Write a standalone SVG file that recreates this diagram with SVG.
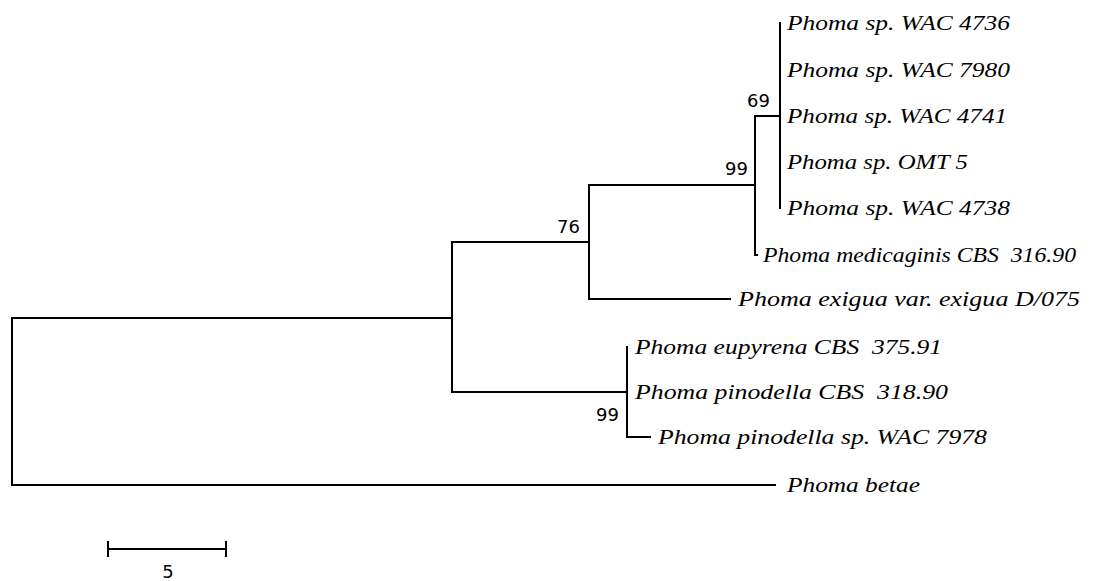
<svg xmlns="http://www.w3.org/2000/svg" width="1107" height="581" viewBox="0 0 1107 581">
<style>
.br{stroke:#000;stroke-width:2;fill:none;stroke-linecap:square}
.tx{font-family:"Liberation Serif",serif;font-style:italic;font-size:22px;fill:#000}
.bs{font-family:"DejaVu Sans","Liberation Sans",sans-serif;font-size:18px;fill:#000}
</style>
<rect width="1107" height="581" fill="#fff"/>
<g id="connectors">
<path class="br" d="M12,318 V485 M12,318 H452 M12,485 H775"/>
<path class="br" d="M452,242 V392 M452,242 H589 M452,392 H627"/>
<path class="br" d="M589,185 V299 M589,185 H755 M589,299 H730"/>
<path class="br" d="M755,116 V255 M755,116 H780 M755,255 H757"/>
<path class="br" d="M780,23 V208"/>
<path class="br" d="M627,347 V437 M627,437 H650"/>
</g>
<g id="leaf-4736"><text class="tx" x="787" y="30" textLength="223" lengthAdjust="spacingAndGlyphs">Phoma sp. WAC 4736</text></g>
<g id="leaf-7980"><text class="tx" x="787" y="77" textLength="223" lengthAdjust="spacingAndGlyphs">Phoma sp. WAC 7980</text></g>
<g id="leaf-4741"><text class="tx" x="787" y="123" textLength="220" lengthAdjust="spacingAndGlyphs">Phoma sp. WAC 4741</text></g>
<g id="leaf-omt5"><text class="tx" x="787" y="169" textLength="181" lengthAdjust="spacingAndGlyphs">Phoma sp. OMT 5</text></g>
<g id="leaf-4738"><text class="tx" x="787" y="215" textLength="223" lengthAdjust="spacingAndGlyphs">Phoma sp. WAC 4738</text></g>
<g id="leaf-medicaginis"><text class="tx" x="763" y="262" xml:space="preserve" textLength="313" lengthAdjust="spacingAndGlyphs">Phoma medicaginis CBS  316.90</text></g>
<g id="leaf-exigua"><text class="tx" x="738" y="306" textLength="342" lengthAdjust="spacingAndGlyphs">Phoma exigua var. exigua D/075</text></g>
<g id="leaf-eupyrena"><text class="tx" x="635" y="354" xml:space="preserve" textLength="307" lengthAdjust="spacingAndGlyphs">Phoma eupyrena CBS  375.91</text></g>
<g id="leaf-pinodella"><text class="tx" x="635" y="399" xml:space="preserve" textLength="313" lengthAdjust="spacingAndGlyphs">Phoma pinodella CBS  318.90</text></g>
<g id="leaf-7978"><text class="tx" x="658" y="444" textLength="329" lengthAdjust="spacingAndGlyphs">Phoma pinodella sp. WAC 7978</text></g>
<g id="leaf-betae"><text class="tx" x="787" y="492" textLength="133" lengthAdjust="spacingAndGlyphs">Phoma betae</text></g>
<g id="bootstrap">
<text class="bs" x="747" y="107">69</text>
<text class="bs" x="725" y="175">99</text>
<text class="bs" x="557" y="233">76</text>
<text class="bs" x="596" y="421">99</text>
</g>
<g id="scale">
<path class="br" d="M108,549 H226 M108,542 V556 M226,542 V556"/>
<text class="bs" x="168" y="578" text-anchor="middle">5</text>
</g>
</svg>
